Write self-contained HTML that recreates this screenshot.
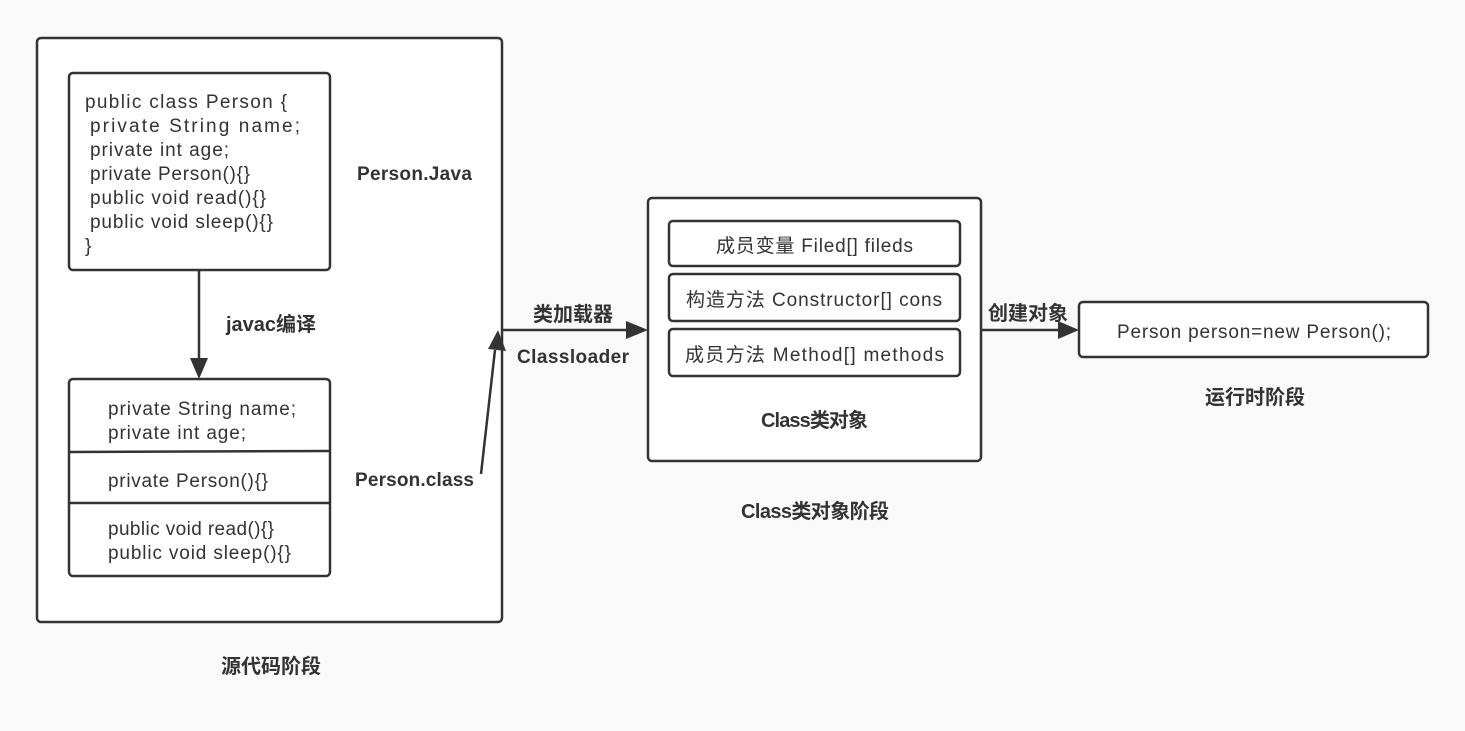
<!DOCTYPE html>
<html><head><meta charset="utf-8"><style>
html,body{margin:0;padding:0;background:#f9f9f9;}
svg{display:block;}
text{font-family:"Liberation Sans","Noto Sans CJK SC",sans-serif;font-size:19px;fill:#333;}
.b{font-weight:bold;font-size:19px;}
.c{font-weight:bold;font-size:20px;}
</style></head><body>
<svg width="1465" height="731" viewBox="0 0 1465 731" xmlns="http://www.w3.org/2000/svg">
<g fill="#fff" stroke="#333" stroke-width="2.5">
<rect x="37" y="38" width="465" height="584" rx="4"/>
<rect x="69" y="73" width="261" height="197" rx="4"/>
<rect x="69" y="379" width="261" height="197" rx="4"/>
<rect x="648" y="198" width="333" height="263" rx="4"/>
<rect x="669" y="221" width="291" height="45" rx="4"/>
<rect x="669" y="274" width="291" height="47" rx="4"/>
<rect x="669" y="329" width="291" height="47" rx="4"/>
<rect x="1079" y="302" width="349" height="55" rx="4"/>
</g>
<g stroke="#333" stroke-width="2.5" fill="none">
<line x1="69" y1="452" x2="330" y2="451"/>
<line x1="69" y1="503" x2="330" y2="503"/>
<line x1="199" y1="270" x2="199" y2="360"/>
<line x1="481" y1="474" x2="495" y2="350"/>
<line x1="502" y1="330" x2="628" y2="330"/>
<line x1="981" y1="330" x2="1060" y2="330"/>
</g>
<g fill="#333">
<polygon points="190,358 208,358 199,379"/>
<polygon points="488,349 506,351 498,330"/>
<polygon points="626,321 626,339 648,330"/>
<polygon points="1058,321 1058,339 1079,330"/>
</g>
<text x="85" y="108" textLength="202">public class Person {</text>
<text x="90" y="132" textLength="210">private String name;</text>
<text x="90" y="156" textLength="139">private int age;</text>
<text x="90" y="180" textLength="160">private Person(){}</text>
<text x="90" y="204" textLength="176">public void read(){}</text>
<text x="90" y="228" textLength="183">public void sleep(){}</text>
<text x="85" y="252">}</text>
<text x="108" y="415" textLength="188">private String name;</text>
<text x="108" y="439" textLength="138">private int age;</text>
<text x="108" y="487" textLength="160">private Person(){}</text>
<text x="108" y="535" textLength="166">public void read(){}</text>
<text x="108" y="559" textLength="183">public void sleep(){}</text>
<text class="b" x="357" y="180" textLength="115">Person.Java</text>
<text class="c" x="226" y="331">javac编译</text>
<text class="b" x="355" y="486" textLength="119">Person.class</text>
<text class="c" x="533" y="321">类加载器</text>
<text class="b" x="517" y="363" textLength="112">Classloader</text>
<text x="716" y="252" textLength="197">成员变量 Filed[] fileds</text>
<text x="686" y="306" textLength="256">构造方法 Constructor[] cons</text>
<text x="685" y="361" textLength="259">成员方法 Method[] methods</text>
<text class="c" x="761" y="427" textLength="107">Class类对象</text>
<text class="c" x="741" y="518" textLength="148">Class类对象阶段</text>
<text class="c" x="988" y="320">创建对象</text>
<text x="1117" y="338" textLength="274">Person person=new Person();</text>
<text class="c" x="1205" y="404">运行时阶段</text>
<text class="c" x="221" y="673">源代码阶段</text>
</svg>
</body></html>
